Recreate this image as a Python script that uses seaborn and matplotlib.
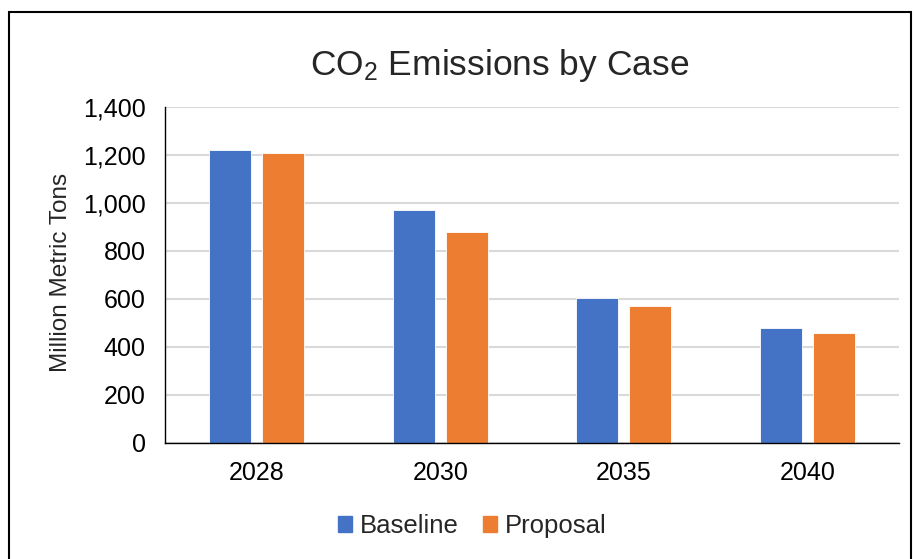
import matplotlib
matplotlib.use("Agg")
import matplotlib.pyplot as plt
import matplotlib.patches as mpatches
import pandas as pd
import seaborn as sns

# values
years = ["2028", "2030", "2035", "2040"]
baseline = [1220, 970, 605, 478]
proposal = [1207, 879, 569, 459]
cases = ["Baseline", "Proposal"]
colors = ["#4472C4", "#ED7D31"]

df = pd.DataFrame({
    "year": years * 2,
    "tons": baseline + proposal,
    "case": [cases[0]] * len(years) + [cases[1]] * len(years),
})

sns.set_theme(style="white")
plt.rcParams['font.family'] = ['Liberation Sans', 'DejaVu Sans']
plt.rcParams['mathtext.default'] = 'regular'

fig = plt.figure(figsize=(9.14, 5.59), dpi=100)
ax = fig.add_axes([165 / 914, 1 - 443 / 559, (899 - 165) / 914, (443 - 107) / 559])

sns.barplot(data=df, x="year", y="tons", hue="case", palette=colors,
            width=0.578, gap=0.208, ax=ax, edgecolor="white", linewidth=0.6,
            saturation=1)

ax.set_ylim(0, 1400)
ax.set_yticks(range(0, 1401, 200))
ax.set_yticklabels([f"{v:,}" for v in range(0, 1401, 200)])
ax.yaxis.grid(True, color="#d9d9d9", linewidth=1.5)
ax.set_axisbelow(True)
for s in ["top", "right"]:
    ax.spines[s].set_visible(False)
ax.spines["left"].set_color("black")
ax.spines["bottom"].set_color("black")
ax.spines["left"].set_linewidth(1.0)
ax.spines["bottom"].set_linewidth(1.0)
ax.tick_params(axis="both", length=0, labelsize=18, colors="#000000")
ax.tick_params(axis="x", pad=13)
ax.tick_params(axis="y", pad=14)
ax.set_xlabel("")
ax.set_ylabel("")

fig.text(61 / 914, 1 - 272 / 559, "Million Metric Tons", rotation=90,
         ha="center", va="center", fontsize=17.5)
fig.text(500 / 914, 1 - 66 / 559, "CO$_2$ Emissions by Case",
         ha="center", va="center", fontsize=25.5)

ax.legend_.remove()
handles = [mpatches.Patch(color=c, label=l) for c, l in zip(colors, cases)]
fig.legend(handles=handles, loc="center", bbox_to_anchor=(472 / 914, 1 - 526 / 559),
           ncol=2, frameon=False, fontsize=18.5, handlelength=0.55, handleheight=0.55,
           handletextpad=0.31, columnspacing=0.93)

# outer chart border
border = mpatches.Rectangle((9 / 914, -0.05), (911 - 9) / 914, 1.05 - 12 / 559,
                            transform=fig.transFigure, fill=False,
                            edgecolor="black", linewidth=1.5, clip_on=False)
fig.patches.append(border)

fig.savefig("out.png", dpi=100)
